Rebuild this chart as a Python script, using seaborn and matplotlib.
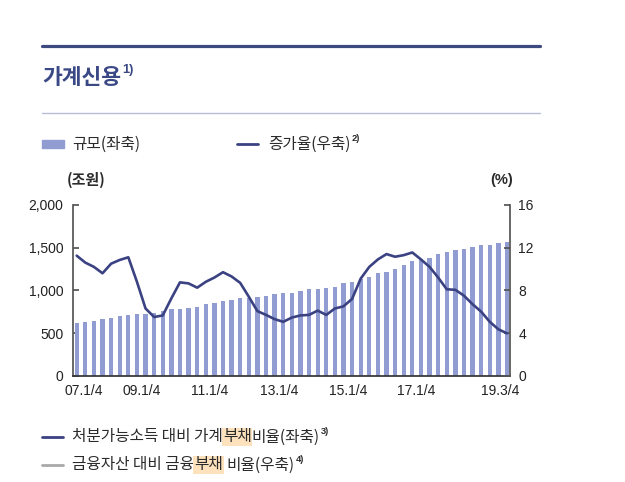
import numpy as np
import seaborn as sns
import matplotlib.pyplot as plt
from matplotlib.lines import Line2D
from matplotlib.patches import Rectangle

# quarterly, 07.1/4 .. 19.3/4
quarters = [f"{y:02d}.{q}/4" for y in range(7, 20) for q in range(1, 5)][:51]

# household credit, trillion won (left axis)
credit = [614, 629, 641, 660, 676, 696, 707, 719, 725, 738,
          757, 778, 781, 793, 809, 836, 848, 875, 887, 914,
          916, 926, 937, 961, 965, 973, 989, 1016, 1020, 1028,
          1043, 1082, 1099, 1131, 1160, 1200, 1219, 1254, 1297, 1344,
          1356, 1383, 1422, 1446, 1469, 1485, 1512, 1535, 1537, 1551, 1570]

# growth rate, % (right axis)
growth = [11.25, 10.6, 10.2, 9.6, 10.5, 10.85, 11.1, 8.8, 6.3, 5.5,
          5.65, 7.25, 8.75, 8.65, 8.25, 8.8, 9.2, 9.7, 9.3, 8.7,
          7.4, 6.05, 5.7, 5.3, 5.05, 5.45, 5.65, 5.7, 6.1, 5.7,
          6.3, 6.5, 7.2, 9.1, 10.2, 10.9, 11.4, 11.15, 11.3, 11.55,
          10.9, 10.2, 9.2, 8.1, 8.05, 7.5, 6.7, 6.0, 5.05, 4.35, 3.97]

tick_pos = [0.85, 7.5, 15.5, 23.5, 31.5, 39.5, 49.2]
tick_lab = ["07.1/4", "09.1/4", "11.1/4", "13.1/4", "15.1/4", "17.1/4", "19.3/4"]

BAR = "#909cd2"
NAVY = "#3b4282"
TXT = "#2b2b2b"
W, H = 625, 482

sns.set_theme(style="white")
plt.rcParams["font.family"] = ["Noto Sans CJK KR", "DejaVu Sans"]

fig = plt.figure(figsize=(W / 100, H / 100), dpi=100)
ax = fig.add_axes([73 / W, 1 - 375.7 / H, 437 / W, 170.7 / H])

sns.barplot(x=quarters, y=credit, color=BAR, width=0.5, saturation=1,
            linewidth=0, ax=ax)
ax.set_ylim(0, 2000)
ax.set_yticks([0, 500, 1000, 1500, 2000])
ax.set_yticklabels(["0", "500", "1,000", "1,500", "2,000"])

ax2 = ax.twinx()
sns.lineplot(x=np.arange(len(growth)), y=growth, color=NAVY, lw=1.9, ax=ax2)
ax2.set_ylim(0, 16)
ax2.set_yticks([0, 4, 8, 12, 16])
ax.set_xlim(-0.43, 50.35)

ax.set_xticks(tick_pos, tick_lab)
ax.set_xticks([47.5], minor=True)
ticks = ax.xaxis.get_major_ticks()
ticks[0].tick1line.set_visible(False)
ticks[-1].tick1line.set_visible(False)

for a in (ax, ax2):
    a.set_xlabel("")
    a.set_ylabel("")
    a.spines["top"].set_visible(False)
    for lab in a.get_xticklabels() + a.get_yticklabels():
        lab.set_family("Liberation Sans")
        lab.set_fontsize(10)
        lab.set_color("#222222")
ax.spines["right"].set_visible(False)
ax2.spines["left"].set_visible(False)
ax2.spines["bottom"].set_visible(False)
ax.spines["left"].set_color("#555555")
ax2.spines["right"].set_color("#555555")
ax.spines["bottom"].set_color("#333333")
ax.tick_params(axis="y", direction="in", length=4, pad=7, color="#555555")
ax.tick_params(axis="x", which="both", direction="in", length=3, pad=6,
               color="#555555")
ax2.tick_params(axis="y", direction="in", length=4, pad=6, color="#555555")


def fx(x):
    return x / W


def fy(y):
    return 1 - y / H


renderer = fig.canvas.get_renderer()


def put_pieces(x, y, pieces, size, color=TXT, weight="medium"):
    # pieces: (text, highlighted, gap before, superscript)
    for s, hl, gap, sup in pieces:
        x += gap
        if sup:
            t = fig.text(fx(x), fy(y - size * 0.45), s, fontsize=size * 0.6,
                         color=color, va="center", weight="bold",
                         family=["Liberation Sans", "DejaVu Sans"])
        else:
            t = fig.text(fx(x), fy(y), s, fontsize=size, color=color,
                         va="center", weight=weight)
        if hl:
            t.set_bbox(dict(facecolor="#fde2bd", edgecolor="none", pad=0.6))
        x += t.get_window_extent(renderer).width


# header rules and title
fig.add_artist(Line2D([fx(42), fx(540)], [fy(46), fy(46)], color="#3d4a80", lw=2.3))
fig.add_artist(Line2D([fx(42), fx(540)], [fy(113), fy(113)], color="#b9bdd8", lw=1))
put_pieces(42, 77, [("가계신용", False, 0, False), ("1)", False, 1, True)],
           15.5, color="#3a4885", weight="bold")

# top legend
fig.add_artist(Rectangle((fx(42), fy(148)), 22 / W, 8 / H, color=BAR))
put_pieces(72, 144, [("규모(좌축)", False, 0, False)], 11.3)
fig.add_artist(Line2D([fx(237), fx(258)], [fy(144), fy(144)], color=NAVY, lw=2))
put_pieces(268, 144, [("증가율(우축)", False, 0, False), ("2)", False, 1, True)], 11.3)

# axis units
fig.text(fx(86), fy(180), "(조원)", fontsize=10.8, color=TXT, va="center",
         ha="center", weight="bold")
fig.text(fx(502), fy(180), "(%)", fontsize=10.5, color=TXT, va="center", ha="center",
         family=["Liberation Sans", "DejaVu Sans"], weight="bold")

# bottom legend with highlighted words
fig.add_artist(Line2D([fx(42), fx(63)], [fy(437), fy(437)], color=NAVY, lw=2))
put_pieces(72, 437, [("처분가능소득 대비 가계", False, 0, False),
                     ("부채", True, 0, False),
                     ("비율(좌축)", False, 0, False),
                     ("3)", False, 1, True)], 11.3)
fig.add_artist(Line2D([fx(42), fx(63)], [fy(465), fy(465)], color="#a9a9a9", lw=2))
put_pieces(72, 465, [("금융자산 대비 금융", False, 0, False),
                     ("부채", True, 0, False),
                     ("비율(우축)", False, 4, False),
                     ("4)", False, 1, True)], 11.3)

fig.savefig("out.png", dpi=100, facecolor="white")
